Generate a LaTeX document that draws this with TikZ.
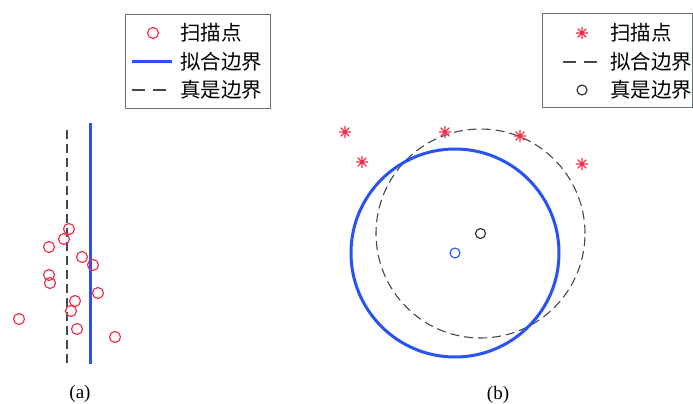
\documentclass[tikz,border=0pt]{standalone}
\usepackage{fontspec}
\setmainfont{Liberation Serif}
\newfontfamily\cjk{Noto Sans CJK SC}
\definecolor{ptred}{HTML}{F0304A}
\definecolor{fitblue}{HTML}{2A52F0}
\definecolor{truegray}{HTML}{404850}
\definecolor{boxgray}{HTML}{6A7078}
\begin{document}
\begin{tikzpicture}[x=1pt,y=-1pt,
  scanpt/.style={circle,draw=ptred,line width=1.2pt,minimum size=11pt,inner sep=0pt},
  fitline/.style={draw=fitblue,line width=3pt},
  trueline/.style={draw=truegray,line width=1.1pt,dash pattern=on 9pt off 5pt},
  legdash/.style={draw=truegray,line width=1.1pt,dash pattern=on 13pt off 8pt},
  legbox/.style={draw=boxgray,line width=0.8pt},
  legtext/.style={anchor=west,inner sep=0pt,font=\cjk\fontsize{20.5}{20.5}\selectfont},
  ctr/.style={circle,line width=1.1pt,minimum size=10pt,inner sep=0pt},
  capt/.style={font=\fontsize{19}{19}\selectfont,inner sep=0pt},
  astk/.pic={\draw[ptred,line width=1.2pt] (-6,0)--(6,0) (0,-6)--(0,6) (-4.3,-4.3)--(4.3,4.3) (-4.3,4.3)--(4.3,-4.3);}
]
\useasboundingbox (0,0) rectangle (693,404);
% ---------- panel (a)
\coordinate (ta) at (67,130); \coordinate (tb) at (67,364);
\coordinate (fa) at (90,123); \coordinate (fb) at (90,364);
\draw[trueline] (ta) -- (tb);
\draw[fitline] (fa) -- (fb);
\node[scanpt] (p1) at (69,229) {};
\node[scanpt] (p2) at (64,239) {};
\node[scanpt] (p3) at (49,247) {};
\node[scanpt] (p4) at (82,257) {};
\node[scanpt] (p5) at (93,265) {};
\node[scanpt] (p6) at (49,275) {};
\node[scanpt] (p7) at (50,283) {};
\node[scanpt] (p8) at (98,293) {};
\node[scanpt] (p9) at (75,301) {};
\node[scanpt] (p10) at (71,311) {};
\node[scanpt] (p11) at (19,319) {};
\node[scanpt] (p12) at (77,329) {};
\node[scanpt] (p13) at (115,337) {};
% legend (a)
\draw[legbox] (125,14) rectangle (270,108);
\node[scanpt] (la1) at (153,33) {};
\node[legtext] (lt1) at (180,33) {扫描点};
\coordinate (la2a) at (132,62); \coordinate (la2b) at (172,62);
\draw[fitline] (la2a) -- (la2b);
\node[legtext] (lt2) at (180,62) {拟合边界};
\coordinate (la3a) at (132,90); \coordinate (la3b) at (166,90);
\draw[legdash] (la3a) -- (la3b);
\node[legtext] (lt3) at (180,90) {真是边界};
\node[capt] (capa) at (80,394) {(a)};
% ---------- panel (b)
\coordinate (cf) at (455,253);
\coordinate (ct) at (480.5,233.5);
\draw[trueline] (ct) circle [radius=104.5pt];
\draw[fitline] (cf) circle [radius=104pt];
\node[ctr,draw=fitblue] (cfm) at (cf) {};
\node[ctr,draw=black!85] (ctm) at (ct) {};
\pic (s1) at (345,132) {astk};
\pic (s2) at (362,162) {astk};
\pic (s3) at (445,132) {astk};
\pic (s4) at (520,136) {astk};
\pic (s5) at (582,164) {astk};
% legend (b)
\draw[legbox] (542,13) rectangle (692,107);
\pic (lb1) at (582,33) {astk};
\node[legtext] (lu1) at (610,33) {扫描点};
\coordinate (lb2a) at (563,62); \coordinate (lb2b) at (597,62);
\draw[legdash] (lb2a) -- (lb2b);
\node[legtext] (lu2) at (610,62) {拟合边界};
\node[ctr,draw=black!85] (lb3) at (582,90) {};
\node[legtext] (lu3) at (610,90) {真是边界};
\node[capt] (capb) at (498,395) {(b)};
\end{tikzpicture}
\end{document}
